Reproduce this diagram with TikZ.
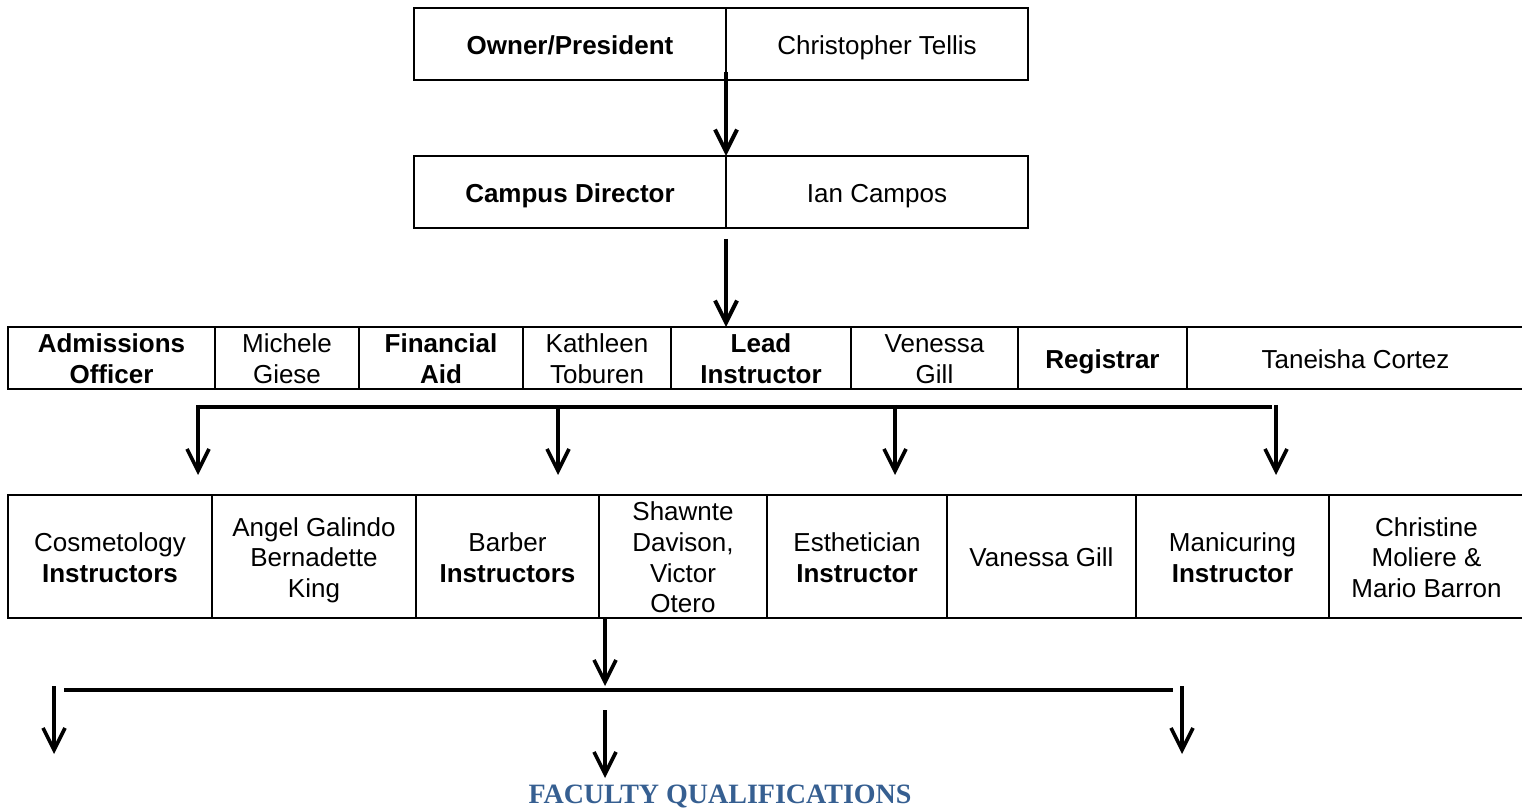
\documentclass[tikz,border=0pt]{standalone}
\usepackage{fontspec}
\setmainfont{Liberation Sans}
\newfontfamily\headfont{Liberation Serif}
\usetikzlibrary{arrows.meta, positioning}
\definecolor{headblue}{RGB}{54,95,145}
\tikzset{
  cell/.style = {draw, line width = 1pt, inner sep = 0pt, outer sep = 0pt, align = center, font = \fontsize{13}{15.3}\selectfont,
    text height = 13pt, text depth = 2.7pt},
  twolines/.style = {text height = 28.3pt},
  threelines/.style = {text height = 43.6pt},
  fourlines/.style = {text height = 58.9pt},
  toprow/.style = {cell, minimum height = 36pt},
  midrow/.style = {cell, minimum height = 31pt},
  lowrow/.style = {cell, minimum height = 61.5pt},
  link/.style = {line width = 1.8pt, -{Straight Barb[length = 11pt, width = 11pt]}},
  bar/.style = {line width = 2.4pt}
}

\begin{document}
\begin{tikzpicture}[x = 0.5pt, y = -0.5pt]
	\useasboundingbox (0, 0) rectangle (1522, 812);
	
	% head of school
	\node[toprow, minimum width = 156pt] (owner) at (570, 44) {\textbf{Owner/President}};
	\node[toprow, minimum width = 151pt, right = 0pt of owner] (tellis) {Christopher Tellis};
	\node[toprow, minimum width = 156pt] (campus) at (570, 192) {\textbf{Campus Director}};
	\node[toprow, minimum width = 151pt, right = 0pt of campus] (campos) {Ian Campos};
	
	% office staff
	\node[midrow, twolines, minimum width = 103.5pt, anchor = north west] (adm) at (8, 327) {\textbf{Admissions}\\\textbf{Officer}};
	\node[midrow, twolines, minimum width = 72pt, right = 0pt of adm] (giese) {Michele\\Giese};
	\node[midrow, twolines, minimum width = 82pt, right = 0pt of giese] (aid) {\textbf{Financial}\\\textbf{Aid}};
	\node[midrow, twolines, minimum width = 74pt, right = 0pt of aid] (toburen) {Kathleen\\Toburen};
	\node[midrow, twolines, minimum width = 90pt, right = 0pt of toburen] (lead) {\textbf{Lead}\\\textbf{Instructor}};
	\node[midrow, twolines, minimum width = 83.5pt, right = 0pt of lead] (venessa) {Venessa\\Gill};
	\node[midrow, minimum width = 84.5pt, right = 0pt of venessa] (reg) {\textbf{Registrar}};
	\node[midrow, minimum width = 168.5pt, right = 0pt of reg] (cortez) {Taneisha Cortez};
	
	% instructors
	\node[lowrow, twolines, minimum width = 102pt, anchor = north west] (cosmo) at (8, 495) {Cosmetology\\\textbf{Instructors}};
	\node[lowrow, threelines, minimum width = 102pt, right = 0pt of cosmo] (galindo) {Angel Galindo\\Bernadette\\King};
	\node[lowrow, twolines, minimum width = 91.5pt, right = 0pt of galindo] (barber) {Barber\\\textbf{Instructors}};
	\node[lowrow, fourlines, minimum width = 84pt, right = 0pt of barber] (davison) {Shawnte\\Davison,\\Victor\\Otero};
	\node[lowrow, twolines, minimum width = 90pt, right = 0pt of davison] (esthe) {Esthetician\\\textbf{Instructor}};
	\node[lowrow, minimum width = 94.5pt, right = 0pt of esthe] (vanessa) {Vanessa Gill};
	\node[lowrow, twolines, minimum width = 96.5pt, right = 0pt of vanessa] (mani) {Manicuring\\\textbf{Instructor}};
	\node[lowrow, threelines, minimum width = 97.5pt, right = 0pt of mani] (moliere) {Christine\\Moliere \&\\Mario Barron};
	
	\node[anchor = base, text = headblue, font = \headfont\bfseries\fontsize{14}{16}\selectfont] (faculty) at (720, 803) {FACULTY QUALIFICATIONS};
	
	\draw[link, line width = 2pt] ([yshift = 4pt]owner.south east) -- (campus.north east);
	\draw[link, line width = 2pt] ([yshift = -5.5pt]campus.south east) -- (campus.south east |- lead.north);
	
	% first fork
	\foreach \x [count = \i] in {198, 558, 895, 1276} {
		\coordinate (up\i) at (\x, 407);
		\coordinate (dn\i) at (\x, 475);
	}
	\draw[bar] ([xshift = -0.9pt]up1) -- ([xshift = -2pt]up4);
	\foreach \i in {1, ..., 4}
		\draw[link] ([yshift = 1pt]up\i) -- (dn\i);
	
	% second fork
	\coordinate (fork) at (605, 686);
	\coordinate (lt) at (54, 686);
	\coordinate (rt) at (1182, 686);
	\coordinate (mid) at (605, 710);
	\draw[link] ([xshift = 3pt]davison.south west) -- (fork);
	\draw[bar] (64, 690) -- (1173, 690);
	\draw[link] (lt) -- +(0, 68);
	\draw[link] (rt) -- +(0, 68);
	\draw[link] (mid) -- +(0, 68);
	
\end{tikzpicture}
\end{document}
